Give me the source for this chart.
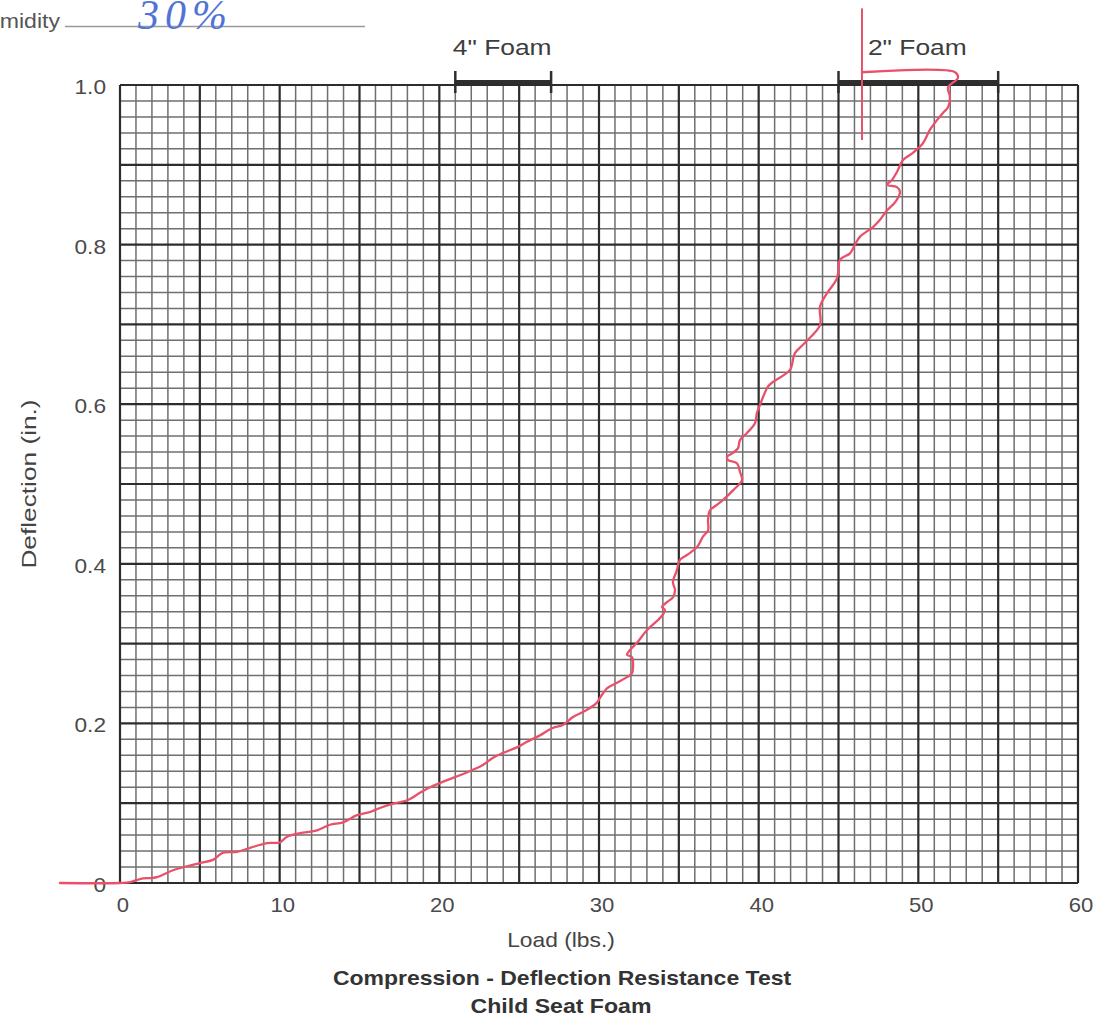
<!DOCTYPE html>
<html>
<head>
<meta charset="utf-8">
<script src="https://cdn.jsdelivr.net/npm/d3@7"></script>
<style>
  body { margin: 0; background: #fff; }
  text { font-family: 'Liberation Sans', Arial, sans-serif; }
</style>
</head>
<body>
<div id="chart-1"></div>
<script>
// compression - deflection chart, child seat foam

// load (lbs.) and deflection (in.)
const loadLbs = [
  -3.76, 0, 0.63, 1.25, 2.32, 3.32, 4.2, 5.01, 5.82, 6.45, 7.33, 8.14, 9.21, 10.02,
  10.46, 11.46, 12.34, 13.15, 13.97, 14.84, 15.66, 16.28, 17.22, 18.04, 18.79, 19.42,
  20.48, 21.29, 22.11, 22.73, 23.36, 23.99, 24.86, 25.49, 26.3, 27.06, 27.74, 28.37,
  29.25, 29.87, 30.06, 30.5, 31.13, 31.75, 32.07, 32.13, 32.07, 31.75, 31.94, 32.38,
  33.01, 33.82, 34.13, 33.95, 34.26, 34.63, 34.76, 34.63, 34.88, 35.07, 35.51, 36.14,
  36.51, 36.83, 36.83, 36.95, 37.39, 37.77, 38.39, 38.96, 38.83, 38.64, 38.08, 38.02,
  38.39, 38.71, 38.83, 39.27, 39.77, 39.89, 40.08, 40.58, 40.9, 41.96, 42.27, 42.9,
  43.84, 43.84, 44.28, 44.91, 45.09, 45.72, 46.03, 46.35, 47.16, 47.6, 48.04, 48.54,
  48.85, 48.66, 48.04, 48.35, 48.66, 49.04, 49.66, 50.29, 50.73, 51.17, 51.54, 51.86,
  51.98, 51.86, 52.48, 52.3, 46.47
]
const deflectionIn = [
  0, 0, 0.001, 0.005, 0.0075, 0.016, 0.021, 0.025, 0.029, 0.038, 0.039, 0.044, 0.05, 0.051,
  0.058, 0.063, 0.066, 0.073, 0.076, 0.085, 0.089, 0.094, 0.1, 0.104, 0.113, 0.12,
  0.129, 0.135, 0.142, 0.148, 0.157, 0.163, 0.17, 0.177, 0.185, 0.194, 0.198, 0.208,
  0.217, 0.226, 0.232, 0.244, 0.251, 0.258, 0.263, 0.276, 0.283, 0.286, 0.292, 0.301,
  0.317, 0.332, 0.342, 0.346, 0.352, 0.358, 0.367, 0.377, 0.392, 0.405, 0.411, 0.421,
  0.434, 0.442, 0.455, 0.467, 0.474, 0.48, 0.492, 0.505, 0.515, 0.526, 0.53, 0.534,
  0.539, 0.545, 0.555, 0.564, 0.576, 0.589, 0.599, 0.622, 0.628, 0.643, 0.664, 0.677,
  0.699, 0.722, 0.739, 0.758, 0.781, 0.789, 0.8, 0.81, 0.822, 0.831, 0.843, 0.853,
  0.866, 0.872, 0.875, 0.881, 0.891, 0.906, 0.915, 0.927, 0.944, 0.956, 0.965, 0.972,
  0.985, 0.997, 1.009, 1.016, 1.016
]

// hand drawn red marker
const markerLoad = [46.47, 46.47]
const markerDefl = [1.096, 0.931]

// foam range bars across the top
const foamLabels = ['4" Foam', '2" Foam']
const foamStart = [21, 45]
const foamEnd = [27, 55]

const xTicks = [0, 10, 20, 30, 40, 50, 60]
const yTicks = [0, 0.2, 0.4, 0.6, 0.8, 1.0]

const humidityLabel = 'Humidity'
const humidityValue = '30%'

const margin = {
  top: 85,
  right: 24,
  bottom: 153,
  left: 120
}

const width = 1102 - margin.left - margin.right
const height = 1036 - margin.top - margin.bottom

const root = d3
  .select('#chart-1')
  .append('svg')
  .attr('width', width + margin.left + margin.right)
  .attr('height', height + margin.top + margin.bottom)

const svg = root
  .append('g')
  .attr('transform', 'translate(' + margin.left + ',' + margin.top + ')')

const xPositionScale = d3
  .scaleLinear()
  .domain([0, 60])
  .range([0, width])

const yPositionScale = d3
  .scaleLinear()
  .domain([0, 1])
  .range([height, 0])

// text with a little horizontal stretch, the scan is wide
function wideText(parent, x, y, str, size, sx, anchor, weight, fill) {
  return parent
    .append('text')
    .attr('transform', 'translate(' + x + ',' + y + ') scale(' + sx + ',1)')
    .attr('font-size', size)
    .attr('font-weight', weight || 'normal')
    .attr('text-anchor', anchor || 'middle')
    .attr('fill', fill || '#3d3d3d')
    .text(str)
}

// GRID
const xMinor = d3.range(0, 61)
const yMinor = d3.range(0, 51).map(d => d / 50)

const grid = svg.append('g').attr('class', 'grid')

grid
  .selectAll('.v-minor')
  .data(xMinor.filter(d => d % 5 !== 0))
  .enter()
  .append('line')
  .attr('class', 'v-minor')
  .attr('x1', d => xPositionScale(d))
  .attr('x2', d => xPositionScale(d))
  .attr('y1', 0)
  .attr('y2', height)
  .attr('stroke', '#6f6f6f')
  .attr('stroke-width', 1.5)

grid
  .selectAll('.h-minor')
  .data(yMinor.filter((d, i) => i % 5 !== 0))
  .enter()
  .append('line')
  .attr('class', 'h-minor')
  .attr('x1', 0)
  .attr('x2', width)
  .attr('y1', d => yPositionScale(d))
  .attr('y2', d => yPositionScale(d))
  .attr('stroke', '#6f6f6f')
  .attr('stroke-width', 1.5)

grid
  .selectAll('.v-major')
  .data(xMinor.filter(d => d % 5 === 0))
  .enter()
  .append('line')
  .attr('class', 'v-major')
  .attr('x1', d => xPositionScale(d))
  .attr('x2', d => xPositionScale(d))
  .attr('y1', 0)
  .attr('y2', height)
  .attr('stroke', '#2c2c2c')
  .attr('stroke-width', 2.2)

grid
  .selectAll('.h-major')
  .data(yMinor.filter((d, i) => i % 5 === 0))
  .enter()
  .append('line')
  .attr('class', 'h-major')
  .attr('x1', 0)
  .attr('x2', width)
  .attr('y1', d => yPositionScale(d))
  .attr('y2', d => yPositionScale(d))
  .attr('stroke', '#2c2c2c')
  .attr('stroke-width', 2.2)

// AXES (labels only, the grid is the axis)
xTicks.forEach(t => {
  wideText(svg, xPositionScale(t) + 3, height + 29, String(t), 21, 1.05, 'middle', 'normal', '#4a4a4a')
})

yTicks.forEach(t => {
  wideText(svg, -14, yPositionScale(t) + 9, t === 0 ? '0' : d3.format('.1f')(t), 21, 1.08, 'end', 'normal', '#4a4a4a')
})

wideText(svg, 441, height + 64, 'Load (lbs.)', 20, 1.14, 'middle', 'normal', '#444')

svg
  .append('text')
  .attr('transform', 'translate(' + (36 - margin.left) + ',' + (484 - margin.top) + ') rotate(-90) scale(1.25,1)')
  .attr('font-size', 21)
  .attr('text-anchor', 'middle')
  .attr('fill', '#444')
  .text('Deflection (in.)')

wideText(svg, 442, height + 102, 'Compression - Deflection Resistance Test', 21, 1.095, 'middle', 'bold', '#333')
wideText(svg, 441, height + 130, 'Child Seat Foam', 21, 1.1, 'middle', 'bold', '#333')

// FOAM RANGE BARS
const foamY = yPositionScale(1) - 3

foamLabels.forEach((label, i) => {
  const x1 = xPositionScale(foamStart[i])
  const x2 = xPositionScale(foamEnd[i])
  svg
    .append('line')
    .attr('x1', x1)
    .attr('x2', x2)
    .attr('y1', foamY)
    .attr('y2', foamY)
    .attr('stroke', '#2e2e2e')
    .attr('stroke-width', 4)
  ;[x1, x2].forEach(x => {
    svg
      .append('line')
      .attr('x1', x)
      .attr('x2', x)
      .attr('y1', foamY - 11)
      .attr('y2', foamY + 11)
      .attr('stroke', '#2e2e2e')
      .attr('stroke-width', 2.5)
  })
  wideText(svg, (x1 + x2) / 2 - 1, -30, label, 22, 1.2, 'middle', 'normal', '#3d3d3d')
})

// THE TRACE
const trace = loadLbs.map((d, i) => ({ load: d, defl: deflectionIn[i] }))
const marker = markerLoad.map((d, i) => ({ load: d, defl: markerDefl[i] }))

const line = d3
  .line()
  .x(d => xPositionScale(d.load))
  .y(d => yPositionScale(d.defl))
  .curve(d3.curveCatmullRom.alpha(0.5))

svg
  .append('path')
  .datum(trace)
  .attr('d', line)
  .attr('fill', 'none')
  .attr('stroke', '#e9506a')
  .attr('stroke-width', 2.3)
  .attr('stroke-linejoin', 'round')
  .attr('stroke-linecap', 'round')

svg
  .append('path')
  .datum(marker)
  .attr('d', line)
  .attr('fill', 'none')
  .attr('stroke', '#e9506a')
  .attr('stroke-width', 2)

// HUMIDITY HEADER
wideText(root, 60, 28, humidityLabel, 21, 1.1, 'end', 'normal', '#555')

root
  .append('line')
  .attr('x1', 65)
  .attr('x2', 365)
  .attr('y1', 26.5)
  .attr('y2', 26.5)
  .attr('stroke', '#9a9a9a')
  .attr('stroke-width', 1.5)

root
  .append('text')
  .attr('x', 138)
  .attr('y', 29)
  .attr('font-size', 42)
  .attr('font-style', 'italic')
  .attr('letter-spacing', 6)
  .attr('fill', '#5273d6')
  .style('font-family', "'Liberation Serif', serif")
  .text(humidityValue)
</script>
</body>
</html>
